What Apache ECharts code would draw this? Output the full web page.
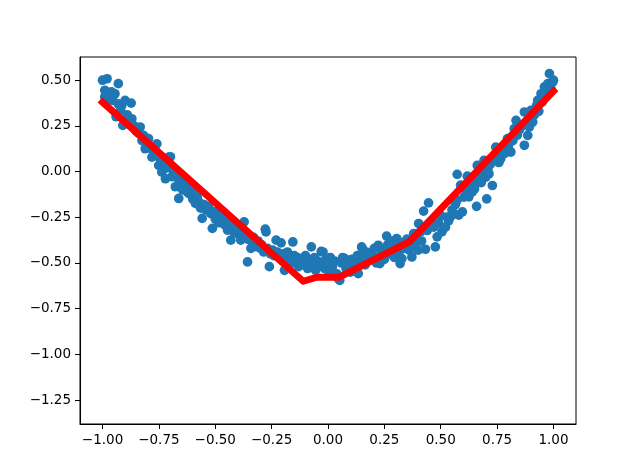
<!DOCTYPE html>
<html>
<head>
<meta charset="utf-8">
<script src="https://cdn.jsdelivr.net/npm/echarts@6/dist/echarts.min.js"></script>
<style>
html,body{margin:0;padding:0;background:#fff;}
#chart{width:640px;height:476px;}
</style>
</head>
<body>
<div id="chart"></div>
<script>
// scatter samples [x, y]
const scatterPoints = [
[-1.00,0.50],[-0.99,0.41],[-0.99,0.445],[-0.98,0.508],[-0.98,0.43],[-0.97,0.40],[-0.96,0.436],[-0.955,0.39],[-0.945,0.426],[-0.94,0.30],[-0.93,0.481],[-0.93,0.37],[-0.92,0.335],[-0.915,0.36],[-0.91,0.253],[-0.90,0.39],[-0.90,0.271],[-0.89,0.31],[-0.88,0.26],[-0.873,0.375],[-0.87,0.289],[-0.86,0.25],[-0.85,0.22],
[-0.84,0.21],[-0.833,0.244],[-0.825,0.17],[-0.818,0.198],[-0.811,0.125],[-0.805,0.16],[-0.796,0.18],[-0.79,0.13],[-0.781,0.079],[-0.775,0.11],[-0.768,0.14],[-0.759,0.152],[-0.751,0.034],[-0.745,0.07],[-0.737,-0.003],[-0.73,0.05],[-0.721,-0.039],[-0.715,0.02],[-0.706,0.079],[-0.699,0.081],[-0.692,-0.028],[-0.685,0.0],[-0.677,-0.083],[-0.672,-0.03],
[-0.662,-0.147],[-0.66,-0.05],[-0.65,-0.07],[-0.645,-0.10],[-0.635,-0.06],[-0.625,-0.11],[-0.617,-0.12],[-0.61,-0.09],[-0.60,-0.15],[-0.595,-0.12],[-0.588,-0.174],[-0.58,-0.14],[-0.57,-0.17],[-0.565,-0.20],[-0.558,-0.193],[-0.558,-0.256],[-0.55,-0.18],[-0.54,-0.21],[-0.53,-0.19],[-0.52,-0.23],[-0.513,-0.311],[-0.51,-0.22],[-0.50,-0.26],[-0.498,-0.22],
[-0.49,-0.24],[-0.485,-0.28],[-0.478,-0.25],[-0.469,-0.266],[-0.46,-0.29],[-0.455,-0.25],[-0.446,-0.32],[-0.44,-0.28],[-0.431,-0.375],[-0.425,-0.30],[-0.418,-0.33],[-0.41,-0.29],[-0.40,-0.34],[-0.395,-0.31],[-0.387,-0.375],[-0.38,-0.35],[-0.372,-0.275],[-0.365,-0.33],[-0.357,-0.494],[-0.355,-0.37],[-0.35,-0.35],
[-0.342,-0.42],[-0.335,-0.39],[-0.33,-0.36],[-0.32,-0.41],[-0.31,-0.38],[-0.30,-0.42],[-0.295,-0.40],[-0.285,-0.44],[-0.278,-0.315],[-0.275,-0.33],[-0.268,-0.42],[-0.26,-0.52],[-0.255,-0.45],[-0.245,-0.43],[-0.24,-0.46],[-0.23,-0.375],[-0.225,-0.44],[-0.215,-0.47],[-0.208,-0.39],[-0.20,-0.45],[-0.193,-0.54],[-0.19,-0.48],[-0.18,-0.44],[-0.175,-0.50],[-0.165,-0.47],[-0.156,-0.385],[-0.15,-0.46],[-0.145,-0.50],[-0.135,-0.47],[-0.13,-0.52],[-0.12,-0.48],
[-0.11,-0.50],[-0.104,-0.512],[-0.10,-0.46],[-0.09,-0.53],[-0.085,-0.48],[-0.074,-0.412],[-0.07,-0.50],[-0.06,-0.47],[-0.055,-0.54],[-0.045,-0.49],[-0.04,-0.52],[-0.03,-0.437],[-0.025,-0.50],[-0.022,-0.44],[-0.015,-0.53],[-0.01,-0.48],[0.0,-0.51],[0.005,-0.55],[0.01,-0.47],[0.02,-0.52],[0.03,-0.49],[0.04,-0.56],[0.045,-0.585],[0.052,-0.595],[0.06,-0.50],[0.065,-0.47],[0.075,-0.476],[0.08,-0.53],[0.09,-0.50],[0.10,-0.55],[0.105,-0.48],[0.115,-0.52],
[0.12,-0.49],[0.13,-0.46],[0.134,-0.558],[0.14,-0.50],[0.149,-0.412],[0.152,-0.42],[0.155,-0.47],[0.165,-0.51],[0.17,-0.44],[0.18,-0.48],[0.19,-0.45],[0.20,-0.467],[0.205,-0.42],[0.215,-0.50],[0.223,-0.403],[0.23,-0.503],[0.235,-0.45],[0.246,-0.43],[0.25,-0.48],[0.26,-0.353],[0.265,-0.40],[0.275,-0.45],[0.28,-0.38],[0.29,-0.42],[0.295,-0.47],[0.305,-0.366],[0.308,-0.403],[0.315,-0.44],[0.32,-0.503],[0.33,-0.39],[0.328,-0.476],[0.34,-0.42],[0.35,-0.37],
[0.36,-0.43],[0.372,-0.467],[0.38,-0.339],[0.385,-0.40],[0.39,-0.36],[0.40,-0.43],[0.402,-0.284],[0.41,-0.33],[0.415,-0.38],[0.424,-0.216],[0.432,-0.425],[0.44,-0.322],[0.446,-0.171],[0.45,-0.30],[0.46,-0.27],[0.469,-0.304],[0.476,-0.412],[0.484,-0.357],[0.49,-0.28],[0.50,-0.24],[0.505,-0.33],[0.513,-0.311],[0.521,-0.304],[0.528,-0.249],[0.535,-0.27],[0.543,-0.248],[0.55,-0.21],
[0.558,-0.23],[0.565,-0.18],[0.573,-0.156],[0.573,-0.015],[0.58,-0.238],[0.588,-0.074],[0.596,-0.22],[0.603,-0.14],[0.61,-0.10],[0.618,-0.025],[0.621,-0.03],[0.625,-0.138],[0.63,-0.06],[0.64,-0.11],[0.647,-0.083],[0.65,-0.094],[0.655,-0.05],[0.659,-0.19],[0.662,0.034],[0.67,-0.02],[0.68,-0.06],[0.685,0.0],[0.692,0.061],[0.70,-0.03],[0.704,-0.149],[0.71,0.02],[0.714,-0.012],[0.72,0.04],[0.729,-0.076],[0.735,0.06],[0.744,0.134],[0.75,0.08],
[0.758,0.05],[0.766,0.07],[0.775,0.12],[0.785,0.10],[0.796,0.18],[0.80,0.14],[0.811,0.107],[0.82,0.17],[0.826,0.235],[0.834,0.28],[0.84,0.20],[0.85,0.23],[0.86,0.25],[0.871,0.144],[0.871,0.326],[0.88,0.27],[0.886,0.198],[0.893,0.244],[0.90,0.335],[0.908,0.271],[0.915,0.31],[0.925,0.36],[0.93,0.39],[0.935,0.33],[0.945,0.426],[0.95,0.38],[0.96,0.463],[0.965,0.42],[0.975,0.481],[0.982,0.536],[0.99,0.45],[0.997,0.49],[1.0,0.50]
];

// fitted (red) line
const lineX = [-1.0, -0.11, -0.05, 0.05, 0.36, 1.0];
const lineY = [0.38, -0.60, -0.578, -0.578, -0.385, 0.44];

// tick values
const xTicks = [-1.0, -0.75, -0.5, -0.25, 0.0, 0.25, 0.5, 0.75, 1.0];
const yTicks = [-1.25, -1.0, -0.75, -0.5, -0.25, 0.0, 0.25, 0.5];

const fmt = v => v.toFixed(2).replace('-', '\u2212');

const chart = echarts.init(document.getElementById('chart'), null, {renderer: 'canvas'});
const axisCommon = {
  type: 'value',
  axisLine: {show: true, onZero: false, lineStyle: {color: '#000', width: 1}},
  axisTick: {show: true, inside: false, length: 5, lineStyle: {color: '#000', width: 1}},
  axisLabel: {color: '#000', fontSize: 13.5, fontFamily: 'DejaVu Sans', formatter: fmt},
  splitLine: {show: false}
};
chart.setOption({
  backgroundColor: '#fff',
  animation: false,
  grid: {left: 80, right: 64, top: 57, bottom: 52, show: true, borderColor: '#000', borderWidth: 1, backgroundColor: 'transparent'},
  xAxis: Object.assign({}, axisCommon, {
    min: -1.1, max: 1.1,
    axisTick: Object.assign({}, axisCommon.axisTick, {customValues: xTicks}),
    axisLabel: Object.assign({}, axisCommon.axisLabel, {customValues: xTicks, margin: 9})
  }),
  yAxis: Object.assign({}, axisCommon, {
    min: -1.381, max: 0.627,
    axisTick: Object.assign({}, axisCommon.axisTick, {customValues: yTicks}),
    axisLabel: Object.assign({}, axisCommon.axisLabel, {customValues: yTicks, margin: 9})
  }),
  series: [
    {
      type: 'scatter',
      data: scatterPoints,
      symbol: 'circle',
      symbolSize: 9.7,
      itemStyle: {color: '#1f77b4', opacity: 1},
      z: 2
    },
    {
      type: 'line',
      data: lineX.map((x, i) => [x, lineY[i]]),
      showSymbol: false,
      symbol: 'none',
      lineStyle: {color: '#ff0000', width: 7, cap: 'square', join: 'round'},
      z: 3
    }
  ]
});
</script>
</body>
</html>
